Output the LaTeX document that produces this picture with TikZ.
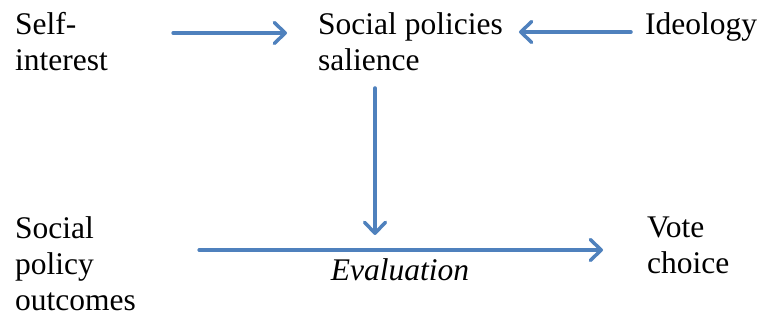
\documentclass[tikz,border=0pt]{standalone}
\usepackage{fontspec}
\newfontfamily\diagfont{Liberation Serif}
\usetikzlibrary{arrows.meta,positioning,calc}

\definecolor{flowblue}{HTML}{4F81BD}

\tikzset{
    txt/.style={inner sep=0pt, anchor=base west, align=left,
        font=\diagfont\fontsize{31.5}{36}\selectfont},
    flow/.style={draw=flowblue, line width=3.5pt, line cap=round,
        -{Straight Barb[length=11pt, width=21pt, line width=3.5pt, round]}}
}

\begin{document}
\begin{tikzpicture}[x=1pt, y=-1pt]
    \useasboundingbox (0,0) rectangle (763,320);

    % top row (base = last line)
    \node[txt] (self) at (15,71) {Self-\\interest};
    \node[txt] (salience) at (318,71) {Social policies\\salience};
    \node[txt] (ideology) at (645,35) {Ideology};

    % bottom row
    \node[txt] (outcomes) at (15,311) {Social\\policy\\outcomes};
    \node[txt] (vote) at (647,274) {Vote\\choice};
    \node[txt, anchor=base, font=\diagfont\fontsize{31.5}{36}\selectfont\itshape]
        (evaluation) at (400,281) {Evaluation};

    % arrows
    \draw[flow] ($(self.east |- ideology.base)+(65,-2)$) -- ($(salience.west |- ideology.base)+(-31,-2)$);
    \draw[flow] ($(ideology.base west)+(-14,-3)$) -- ($(salience.east |- ideology.base)+(16,-3)$);
    \draw[flow] ($(salience.base west)+(57,17)$) -- ($(salience.base west)+(57,164)$);
    \draw[flow] ($(outcomes.east |- vote.base)+(63,-24)$) -- ($(vote.base west)+(-44,-24)$);
\end{tikzpicture}
\end{document}
